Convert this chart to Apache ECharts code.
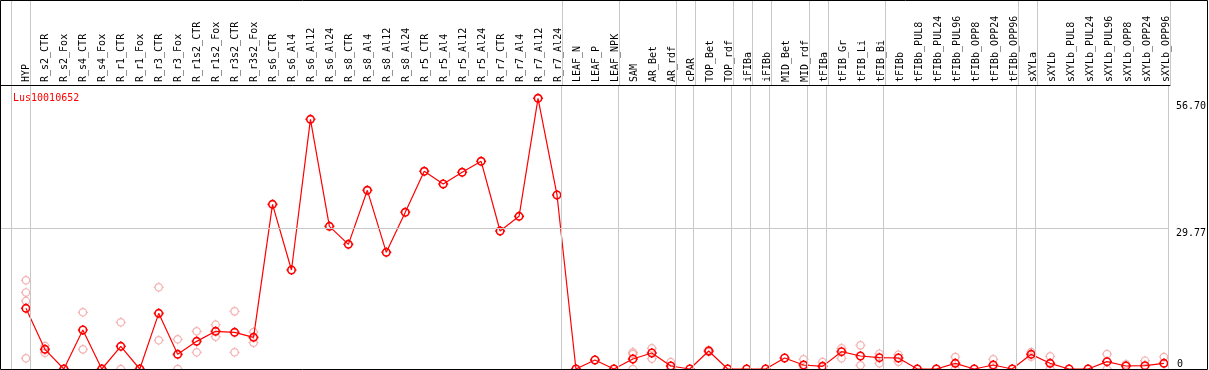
<!DOCTYPE html>
<html>
<head>
<meta charset="utf-8">
<script src="https://cdn.jsdelivr.net/npm/echarts@6/dist/echarts.min.js"></script>
<style>
  html, body { margin: 0; padding: 0; background: #fff; }
  #chart { width: 1209px; height: 370px; }
</style>
</head>
<body>
<div id="chart"></div>
<script>
const geneName = 'Lus10010652'

const categories = [
  'HYP', 'R_s2_CTR', 'R_s2_Fox', 'R_s4_CTR', 'R_s4_Fox', 'R_r1_CTR', 'R_r1_Fox',
  'R_r3_CTR', 'R_r3_Fox', 'R_r1s2_CTR', 'R_r1s2_Fox', 'R_r3s2_CTR', 'R_r3s2_Fox',
  'R_s6_CTR', 'R_s6_Al4', 'R_s6_Al12', 'R_s6_Al24', 'R_s8_CTR', 'R_s8_Al4', 'R_s8_Al12',
  'R_s8_Al24', 'R_r5_CTR', 'R_r5_Al4', 'R_r5_Al12', 'R_r5_Al24', 'R_r7_CTR', 'R_r7_Al4',
  'R_r7_Al12', 'R_r7_Al24', 'LEAF_N', 'LEAF_P', 'LEAF_NPK', 'SAM', 'AR_Bet', 'AR_rdf',
  'cPAR', 'TOP_Bet', 'TOP_rdf', 'iFIBa', 'iFIBb', 'MID_Bet', 'MID_rdf', 'tFIBa',
  'tFIB_Gr', 'tFIB_Li', 'tFIB_Bi', 'tFIBb', 'tFIBb_PUL8', 'tFIBb_PUL24', 'tFIBb_PUL96',
  'tFIBb_OPP8', 'tFIBb_OPP24', 'tFIBb_OPP96', 'sXYLa', 'sXYLb', 'sXYLb_PUL8',
  'sXYLb_PUL24', 'sXYLb_PUL96', 'sXYLb_OPP8', 'sXYLb_OPP24', 'sXYLb_OPP96'
]

// mean expression per sample
const means = [
  12.84, 4.16, 0, 8.25, 0, 4.8, 0, 11.78, 3.1, 5.85, 7.97, 7.76, 6.7,
  34.84, 20.95, 52.83, 30.19, 26.38, 37.81, 24.69, 33.16, 41.83, 39.15, 41.62, 43.95,
  29.2, 32.3, 57.28, 36.82,
  0, 1.9, 0, 2.12, 3.39, 0.63, 0, 3.81, 0, 0, 0, 2.33, 0.85, 0.56,
  3.67, 2.75, 2.4, 2.33, 0, 0, 1.2, 0, 0.85, 0, 3.1, 1.2, 0, 0, 1.55, 0.63, 0.7, 1.2
]

// individual replicate values per sample
const replicates = [
  [18.77, 16.2, 14.4, 2.26], [4.87, 3.45], [0, 0], [12.0, 4.16], [0], [9.88, 0], [0],
  [17.28, 6.07], [6.28, 0], [7.97, 3.53], [9.38, 6.84], [12.2, 3.53], [7.83, 5.57],
  [], [], [], [], [], [], [], [], [], [], [], [], [], [], [], [],
  [0], [], [], [3.53, 3.17, 0], [4.38, 2.18], [1.48, 0], [], [4.0, 3.6], [], [], [], [],
  [2.05, 0], [1.48, 0], [4.38, 2.26], [5.0, 0.78], [3.24, 1.2], [3.03, 1.55], [], [],
  [2.54, 0], [], [2.05, 0], [], [3.6, 2.6], [2.68, 0], [], [], [3.17, 0], [0.99], [1.76], [2.54]
]

// index of first sample in each tissue group (last = end)
const groupStarts = [0, 1, 29, 32, 35, 36, 38, 39, 40, 42, 43, 46, 53, 54, 61]

const yLabels = [29.77, 56.70]
const yZeroLabel = [0]

const chart = echarts.init(document.getElementById('chart'))

const font = 'DejaVu Sans Mono'
// circle with four short ticks
const marker = 'path://M10 0V2.6M10 17.4V20M0 10H2.6M17.4 10H20' +
  'M17.4 10C17.4 14.09 14.09 17.4 10 17.4C5.91 17.4 2.6 14.09 2.6 10' +
  'C2.6 5.91 5.91 2.6 10 2.6C14.09 2.6 17.4 5.91 17.4 10Z'
const xMin = -26 / 19
const xMax = 60 + 4 / 19
const sepLines = groupStarts.map(k => ({ xAxis: k - 15 / 19 }))

const repData = []
replicates.forEach((vals, i) => vals.forEach(v => repData.push([i, v])))

const sepStyle = { color: '#c8c8c8', width: 1, type: 'solid' }

chart.setOption({
  animation: false,
  title: {
    text: geneName,
    left: 8,
    top: 88,
    textStyle: { color: '#ff0000', fontFamily: font, fontSize: 10, fontWeight: 'normal' }
  },
  grid: [
    { left: 0, right: 39, top: 0, height: 85 },
    { left: 0, right: 39, top: 86, bottom: 1 }
  ],
  xAxis: [
    {
      gridIndex: 0,
      type: 'value',
      min: xMin,
      max: xMax,
      axisLine: { show: true, lineStyle: { color: '#000', width: 1 } },
      axisTick: { show: false },
      splitLine: { show: false },
      axisLabel: {
        inside: true,
        rotate: 90,
        margin: 3,
        customValues: categories.map((c, i) => i),
        formatter: v => categories[Math.round(v)],
        fontFamily: font,
        fontSize: 10,
        color: '#000'
      }
    },
    {
      gridIndex: 1,
      type: 'value',
      min: xMin,
      max: xMax,
      show: false
    }
  ],
  yAxis: [
    { gridIndex: 0, type: 'value', min: 0, max: 1, show: false },
    {
      gridIndex: 1,
      type: 'value',
      position: 'right',
      min: 0,
      max: 59.88,
      axisLine: { show: false },
      axisTick: { show: false },
      splitLine: { show: false },
      axisLabel: {
        customValues: yLabels,
        formatter: v => v.toFixed(2),
        align: 'left',
        verticalAlign: 'top',
        margin: 8,
        fontFamily: font,
        fontSize: 10,
        color: '#000'
      }
    },
    {
      gridIndex: 1,
      type: 'value',
      position: 'right',
      min: 0,
      max: 59.88,
      axisLine: { show: false },
      axisTick: { show: false },
      splitLine: { show: false },
      axisLabel: {
        customValues: yZeroLabel,
        formatter: v => String(v),
        align: 'left',
        verticalAlign: 'bottom',
        margin: 9,
        fontFamily: font,
        fontSize: 10,
        color: '#000'
      }
    }
  ],
  series: [
    {
      type: 'line',
      xAxisIndex: 0,
      yAxisIndex: 0,
      data: [],
      silent: true,
      markLine: {
        silent: true,
        symbol: 'none',
        label: { show: false },
        lineStyle: sepStyle,
        data: sepLines
      }
    },
    {
      name: 'replicates',
      type: 'scatter',
      xAxisIndex: 1,
      yAxisIndex: 1,
      symbol: marker,
      symbolSize: 10,
      itemStyle: { color: 'transparent', borderColor: '#f09c9c', borderWidth: 1.2 },
      data: repData,
      markLine: {
        silent: true,
        symbol: 'none',
        label: { show: false },
        lineStyle: sepStyle,
        data: sepLines.concat(yLabels.slice(0, 1).map(v => ({ yAxis: v })))
      }
    },
    {
      name: geneName,
      type: 'line',
      xAxisIndex: 1,
      yAxisIndex: 1,
      symbol: marker,
      symbolSize: 10,
      showAllSymbol: true,
      lineStyle: { color: '#ff0000', width: 1.2 },
      itemStyle: { color: 'transparent', borderColor: '#ff0000', borderWidth: 1.6 },
      data: means.map((v, i) => [i, v])
    }
  ],
  graphic: [
    {
      type: 'rect',
      shape: { x: 0.5, y: 0.5, width: 1207, height: 369 },
      style: { fill: 'none', stroke: '#000', lineWidth: 1 },
      z: 100
    }
  ]
})
</script>
</body>
</html>
